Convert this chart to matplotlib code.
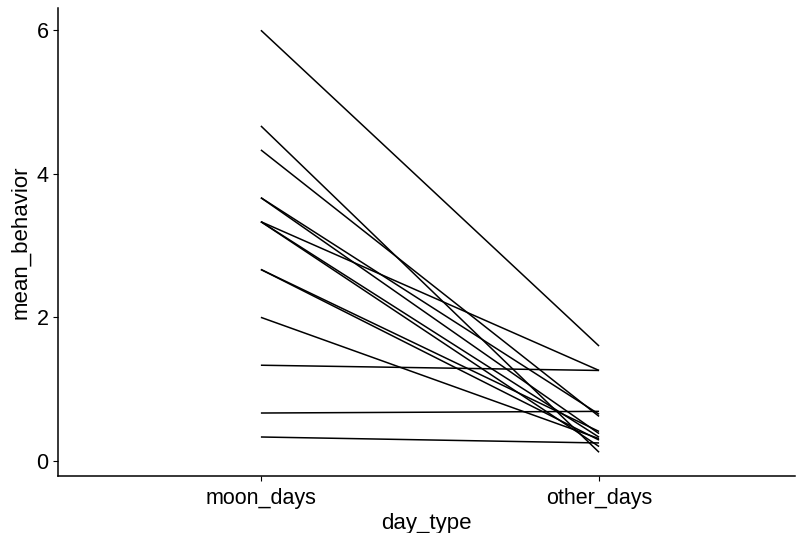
import matplotlib
matplotlib.use("Agg")
import matplotlib.pyplot as plt

plt.rcParams['font.family'] = ['Liberation Sans', 'DejaVu Sans']

day_types = ["moon_days", "other_days"]
moon_values = [6.0, 4.667, 4.333, 3.667, 3.667, 3.333, 3.333, 3.333,
               2.667, 2.667, 2.0, 1.333, 0.667, 0.333]
other_values = [1.6, 0.12, 0.62, 0.65, 0.38, 1.26, 0.2, 0.33,
                0.41, 0.29, 0.31, 1.26, 0.69, 0.25]
y_ticks = [0, 2, 4, 6]

fig = plt.figure(figsize=(8, 5.33), dpi=100)
ax = fig.add_axes([0.0725, 0.107, 0.9215, 0.878])

xpos = [1, 2]
for m, o in zip(moon_values, other_values):
    ax.plot(xpos, [m, o], color="black", lw=1.1, solid_capstyle="butt")

ax.set_xlim(0.4, 2.58)
ax.set_ylim(-0.21, 6.31)
ax.set_xticks(xpos)
ax.set_xticklabels(day_types)
ax.set_yticks(y_ticks)
ax.set_xlabel("day_type", fontsize=16, labelpad=3)
ax.set_ylabel("mean_behavior", fontsize=16, labelpad=4)
ax.tick_params(axis="y", labelsize=15.5, length=3.8, width=0.8, colors="black", pad=3)
ax.tick_params(axis="x", labelsize=15.5, length=3.8, width=0.8, colors="black", pad=5)
for s in ["top", "right"]:
    ax.spines[s].set_visible(False)
for s in ["left", "bottom"]:
    ax.spines[s].set_linewidth(1.1)

fig.savefig("out.png", dpi=100)
